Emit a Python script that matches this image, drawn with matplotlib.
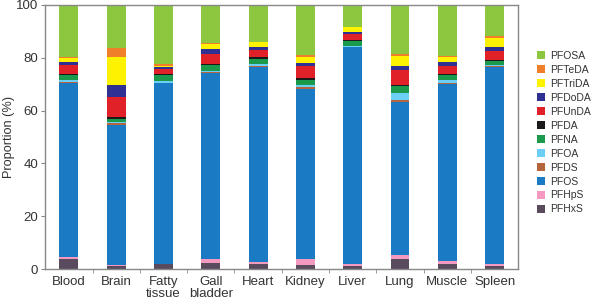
import numpy as np
import matplotlib
matplotlib.use("Agg")
import matplotlib.pyplot as plt
from matplotlib.patches import Patch

plt.rcParams['font.family'] = ['Liberation Sans', 'DejaVu Sans']

tissues = ["Blood", "Brain", "Fatty\ntissue", "Gall\nbladder", "Heart",
           "Kidney", "Liver", "Lung", "Muscle", "Spleen"]

# bottom -> top stacking order
compounds = ["PFHxS", "PFHpS", "PFOS", "PFDS", "PFOA", "PFNA",
             "PFDA", "PFUnDA", "PFDoDA", "PFTriDA", "PFTeDA", "PFOSA"]

colors = ["#5a4a5e", "#f49ac1", "#1a7ac4", "#b4653c", "#6ccff6", "#1a9a4a",
          "#1a1a1a", "#e02127", "#2e3192", "#fff200", "#f07f2a", "#8dc63f"]

# proportion (%) per tissue for each compound
PFHxS   = [3.7, 1.2, 1.8, 2.1, 1.9, 1.4, 1.1, 3.7, 1.9, 1.1]
PFHpS   = [0.7, 0.4, 0.2, 1.6, 0.9, 2.5, 0.8, 1.7, 1.0, 0.8]
PFOS    = [66.2, 53.1, 68.3, 70.4, 73.8, 64.4, 82.1, 57.9, 67.2, 74.5]
PFDS    = [0.2, 0.7, 0.2, 0.4, 0.2, 0.5, 0.2, 0.5, 0.3, 0.6]
PFOA    = [0.7, 0.3, 0.5, 0.3, 0.8, 0.8, 0.3, 3.0, 1.2, 0.2]
PFNA    = [2.0, 1.2, 2.3, 2.3, 2.0, 2.0, 1.7, 2.5, 1.8, 1.6]
PFDA    = [0.5, 0.8, 0.5, 0.5, 0.5, 0.7, 0.5, 0.5, 0.5, 0.5]
PFUnDA  = [3.3, 7.5, 1.8, 3.7, 2.8, 4.6, 2.3, 5.6, 3.0, 3.2]
PFDoDA  = [1.2, 4.3, 1.0, 2.1, 1.0, 1.2, 0.8, 1.5, 1.5, 1.5]
PFTriDA = [1.3, 10.9, 0.2, 1.8, 2.0, 2.3, 1.7, 3.8, 2.0, 3.5]
PFTeDA  = [0.4, 3.4, 1.0, 0.5, 0.2, 0.5, 0.1, 0.7, 0.2, 0.7]

data = [PFHxS, PFHpS, PFOS, PFDS, PFOA, PFNA, PFDA, PFUnDA, PFDoDA, PFTriDA, PFTeDA]
PFOSA = list(100 - np.sum(data, axis=0))
data.append(PFOSA)

fig = plt.figure(figsize=(5.95, 3.05), dpi=100)
ax = fig.add_axes([0.076, 0.118, 0.795, 0.866])

x = np.arange(len(tissues))
bottom = np.zeros(len(tissues))
for vals, c, name in zip(data, colors, compounds):
    ax.bar(x, vals, 0.4, bottom=bottom, color=c, label=name, linewidth=0)
    bottom += np.array(vals)

ax.set_xlim(-0.5, len(tissues) - 0.5)
ax.set_ylim(0, 100)
ax.set_yticks([0, 20, 40, 60, 80, 100])
ax.set_xticks(x)
ax.set_xticklabels(tissues, fontsize=9.5, color="#333333", linespacing=1.05)
ax.set_xticks(np.arange(0.5, len(tissues) - 1, 1), minor=True)
ax.tick_params(axis="x", which="major", length=0, pad=5)
ax.tick_params(axis="x", which="minor", length=3, color="#888888")
ax.tick_params(axis="y", length=3, color="#888888", labelsize=9.5,
               labelcolor="#333333", pad=2)
ax.set_ylabel("Proportion (%)", fontsize=9.2, color="#333333", labelpad=1)
for s in ax.spines.values():
    s.set_color("#888888")
    s.set_linewidth(1)

handles = [Patch(facecolor=c, label=n) for c, n in zip(colors, compounds)][::-1]
fig.legend(handles=handles, loc="center left", bbox_to_anchor=(0.887, 0.565),
           frameon=False, fontsize=7.5, handlelength=0.75, handleheight=0.75,
           handletextpad=0.5, labelspacing=0.38, labelcolor="#333333")

fig.savefig("out.png", dpi=100)
